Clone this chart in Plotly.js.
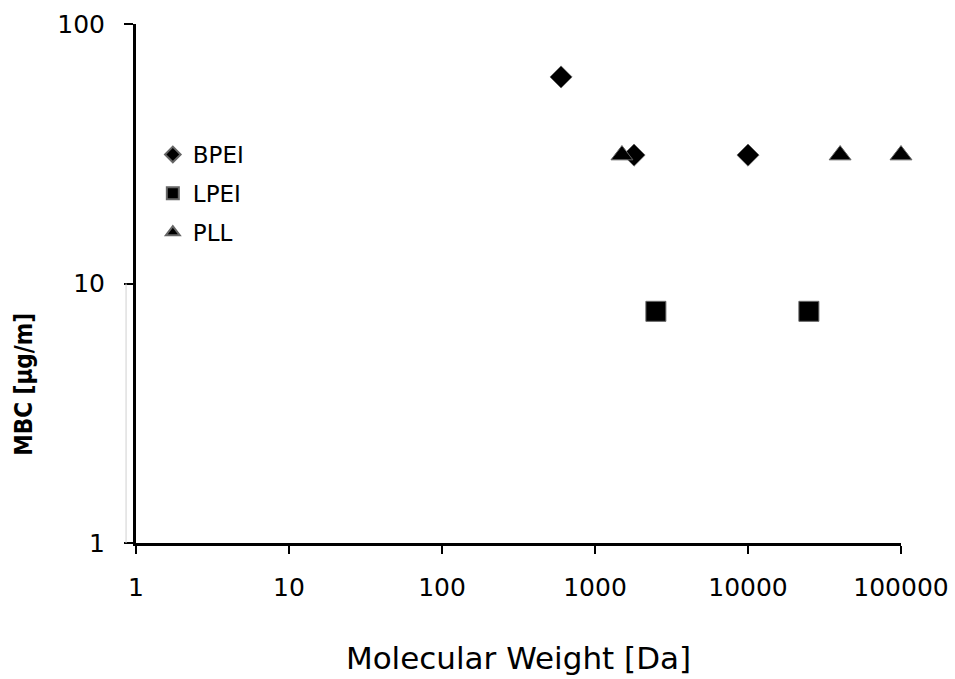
<!DOCTYPE html>
<html>
<head>
<meta charset="utf-8">
<script src="https://cdn.plot.ly/plotly-3.0.1.min.js"></script>
<style>html,body{margin:0;padding:0;background:#fff;}#chart{width:955px;height:679px;}</style>
</head>
<body>
<div id="chart"></div>
<script>
// Data
const bpeiMW = [600, 1800, 10000];
const bpeiMBC = [62.5, 31.25, 31.25];
const lpeiMW = [2500, 25000];
const lpeiMBC = [7.8125, 7.8125];
const pllMW = [1500, 40000, 100000];
const pllMBC = [31.25, 31.25, 31.25];
const seriesNames = ['BPEI', 'LPEI', 'PLL'];
const xTitle = 'Molecular Weight [Da]';
const yTitle = 'MBC [µg/m]';

const FONT = 'DejaVu Sans, Verdana, sans-serif';
const mline = {color: '#666', width: 1};

const traces = [
  {x: bpeiMW, y: bpeiMBC, name: seriesNames[0], legendgroup: 'a', mode: 'markers', type: 'scatter', cliponaxis: false,
   marker: {symbol: 'diamond', size: 17, color: '#000', line: mline}},
  {x: lpeiMW, y: lpeiMBC, name: seriesNames[1], legendgroup: 'b', mode: 'markers', type: 'scatter', cliponaxis: false,
   marker: {symbol: 'square', size: 20, color: '#000', line: mline}},
  {x: pllMW, y: pllMBC, name: seriesNames[2], legendgroup: 'c', mode: 'markers', type: 'scatter', cliponaxis: false,
   marker: {symbol: 'triangle-up', size: 19, color: '#000', line: mline}}
];

const layout = {
  width: 955, height: 679,
  margin: {l: 136, r: 54, t: 24, b: 136},
  paper_bgcolor: '#fff', plot_bgcolor: '#fff',
  font: {family: FONT, color: '#000', size: 20},
  showlegend: true,
  legend: {x: 0.022, y: 0.79, xanchor: 'left', yanchor: 'top', bgcolor: 'rgba(0,0,0,0)',
           font: {family: FONT, size: 23, color: '#000'}, itemsizing: 'constant', tracegroupgap: 6},
  xaxis: {
    type: 'log', range: [0, 5], dtick: 1, tickformat: 'd',
    showgrid: false, zeroline: false, showline: true, linecolor: '#000', linewidth: 3,
    ticks: 'outside', ticklen: 8, tickwidth: 2, tickcolor: '#000', ticklabelstandoff: 12,
    tickfont: {family: FONT, size: 25, color: '#000'},
    title: {text: xTitle, font: {family: FONT, size: 31, color: '#000'}, standoff: 47}
  },
  yaxis: {
    type: 'log', range: [0, 2], dtick: 1, tickformat: 'd',
    showgrid: false, zeroline: false, showline: true, linecolor: '#000', linewidth: 3,
    ticks: 'outside', ticklen: 9, tickwidth: 2, tickcolor: '#000', ticklabelstandoff: 14,
    tickfont: {family: FONT, size: 25, color: '#000'}
  },
  annotations: [
    {text: yTitle, xref: 'paper', yref: 'paper', x: -0.1464, y: 0.305, xanchor: 'center', yanchor: 'middle',
     textangle: -90, showarrow: false,
     font: {family: 'DejaVu Sans Condensed, DejaVu Sans, sans-serif', size: 24, color: '#000', weight: 'bold', stretch: 'condensed'}}
  ],
  shapes: [
    {type: 'line', xref: 'paper', yref: 'paper', x0: -0.013, x1: -0.013, y0: 0, y1: 0.5,
     line: {color: '#d0d0d0', width: 1}}
  ]
};

Plotly.newPlot('chart', traces, layout, {displayModeBar: false, staticPlot: true});
</script>
</body>
</html>
